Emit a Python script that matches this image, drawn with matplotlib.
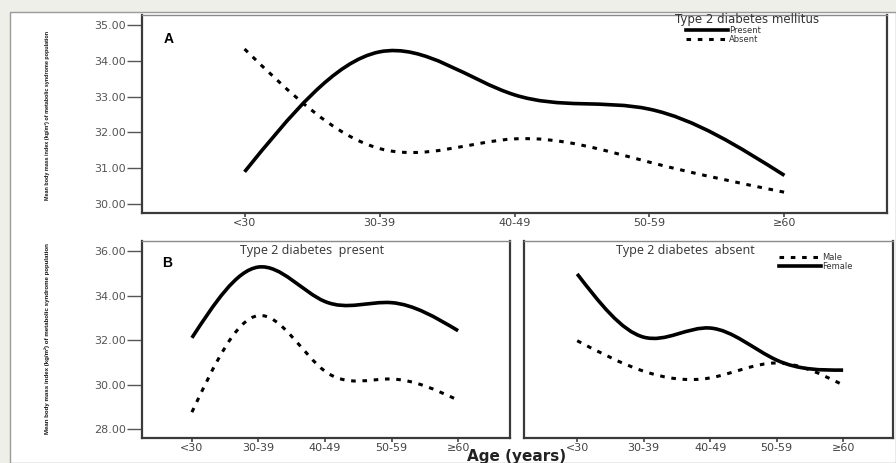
import numpy as np
import matplotlib
matplotlib.use("Agg")
import matplotlib.pyplot as plt
from matplotlib.path import Path
from matplotlib.patches import PathPatch, Rectangle
from matplotlib.lines import Line2D

# ---------------- data ----------------
age_groups = ["<30", "30-39", "40-49", "50-59", "\u226560"]

# Panel A: Type 2 diabetes mellitus
a_present = [30.90, 34.25, 33.05, 32.65, 30.80]
a_absent = [34.33, 31.55, 31.82, 31.17, 30.33]

# Panel B left: Type 2 diabetes present
bp_female = [32.10, 35.28, 33.73, 33.68, 32.42]
bp_male = [28.76, 33.10, 30.60, 30.25, 29.30]

# Panel B right: Type 2 diabetes absent
ba_female = [34.97, 32.13, 32.54, 31.10, 30.65]
ba_male = [31.97, 30.60, 30.30, 30.97, 29.98]

a_yticks = [30, 31, 32, 33, 34, 35]
b_yticks = [28, 30, 32, 34, 36]

# ---------------- helpers ----------------
def spline_path(xs, ys):
    """Natural cubic spline through the points, expressed as cubic Bezier path."""
    xs = np.asarray(xs, float)
    ys = np.asarray(ys, float)
    n = len(xs)
    h = np.diff(xs)
    A = np.zeros((n, n))
    r = np.zeros(n)
    A[0, 0] = 1
    A[-1, -1] = 1
    for i in range(1, n - 1):
        A[i, i - 1] = h[i - 1]
        A[i, i] = 2 * (h[i - 1] + h[i])
        A[i, i + 1] = h[i]
        r[i] = 6 * ((ys[i + 1] - ys[i]) / h[i] - (ys[i] - ys[i - 1]) / h[i - 1])
    M = np.linalg.solve(A, r)
    verts = [(xs[0], ys[0])]
    codes = [Path.MOVETO]
    for i in range(n - 1):
        hi = h[i]
        s = (ys[i + 1] - ys[i]) / hi
        d0 = s - hi * (2 * M[i] + M[i + 1]) / 6
        d1 = s + hi * (M[i] + 2 * M[i + 1]) / 6
        verts += [(xs[i] + hi / 3, ys[i] + d0 * hi / 3),
                  (xs[i + 1] - hi / 3, ys[i + 1] - d1 * hi / 3),
                  (xs[i + 1], ys[i + 1])]
        codes += [Path.CURVE4] * 3
    return Path(verts, codes)

SOLID = dict(lw=2.6, linestyle="-", color="black")
DOTTED = dict(lw=2.2, linestyle=(0, (1.5, 2.2)), color="black")

def draw_curve(ax, vals, style):
    p = spline_path(np.arange(len(vals)), vals)
    patch = PathPatch(p, fill=False, edgecolor=style["color"], lw=style["lw"],
                      linestyle=style["linestyle"], capstyle="butt", joinstyle="round")
    ax.add_patch(patch)

def style_axes(ax, xlim, ylim, yticks, show_ylabels=True):
    ax.set_xlim(*xlim)
    ax.set_ylim(*ylim)
    ax.set_xticks(range(len(age_groups)))
    ax.set_xticklabels(age_groups)
    ax.set_yticks(yticks)
    if show_ylabels:
        ax.set_yticklabels([f"{v:.2f}" for v in yticks])
        ax.tick_params(axis="y", length=10.5, width=1.0, color="#555555",
                       labelsize=8, labelcolor="#555555", pad=1)
    else:
        ax.tick_params(axis="y", left=False, labelleft=False)
    ax.tick_params(axis="x", length=3, width=1.2, color="#444444",
                   labelsize=8, labelcolor="#444444", pad=0.8, direction="out")
    for side in ["left", "bottom", "right"]:
        ax.spines[side].set_color("#3a3a3a")
        ax.spines[side].set_linewidth(1.6)
    ax.spines["top"].set_color("#8a8a8a")
    ax.spines["top"].set_linewidth(1.0)
    ax.set_facecolor("white")

def small_legend(ax, handles, labels, anchor):
    leg = ax.legend(handles, labels, loc="upper left", bbox_to_anchor=anchor,
                    frameon=False, fontsize=6, handlelength=5.0, handletextpad=0.15,
                    labelspacing=0.0, borderpad=0, borderaxespad=0)
    for t in leg.get_texts():
        t.set_color("#333333")
    return leg

# ---------------- figure ----------------
W, H = 896, 463
fig = plt.figure(figsize=(W / 100, H / 100), dpi=100)
fig.patch.set_facecolor("#efefe9")
frame = Rectangle((10 / W, 0), 1 - 10 / W, (H - 12) / H,
                  transform=fig.transFigure, facecolor="white",
                  edgecolor="#9a9a9a", lw=1.0, zorder=-10)
fig.patches.append(frame)

def ax_px(left, top, right, bottom):
    return fig.add_axes([left / W, (H - bottom) / H, (right - left) / W, (bottom - top) / H])

axA = ax_px(142, 15, 887, 213)
axBL = ax_px(142, 241, 510, 438)
axBR = ax_px(524, 241, 893, 438)

# Panel A
style_axes(axA, (-0.76, 4.76), (29.75, 35.28), a_yticks)
draw_curve(axA, a_present, SOLID)
draw_curve(axA, a_absent, DOTTED)
axA.text(0.029, 0.86, "A", transform=axA.transAxes, fontsize=10, fontweight="bold",
         family="Liberation Sans")
fig.text(747 / W, (H - 19) / H, "Type 2 diabetes mellitus", ha="center", va="center",
         fontsize=8.5, color="#333333", family="DejaVu Sans")
small_legend(axA, [Line2D([], [], **SOLID), Line2D([], [], **DOTTED)],
             ["Present", "Absent"], ((686 - 142) / 745, 1 - (26 - 15) / 198))

# Panel B left
style_axes(axBL, (-0.75, 4.78), (27.6, 36.45), b_yticks)
draw_curve(axBL, bp_female, SOLID)
draw_curve(axBL, bp_male, DOTTED)
axBL.text(0.055, 0.87, "B", transform=axBL.transAxes, fontsize=10, fontweight="bold",
          family="Liberation Sans")
axBL.text((312 - 142) / 368, 0.985, "Type 2 diabetes  present", transform=axBL.transAxes,
          ha="center", va="top", fontsize=9, color="#333333", family="Open Sans")

# Panel B right
style_axes(axBR, (-0.8, 4.75), (27.6, 36.45), b_yticks, show_ylabels=False)
draw_curve(axBR, ba_female, SOLID)
draw_curve(axBR, ba_male, DOTTED)
axBR.text((685 - 524) / 369, 0.985, "Type 2 diabetes  absent", transform=axBR.transAxes,
          ha="center", va="top", fontsize=9, color="#333333", family="Open Sans")
small_legend(axBR, [Line2D([], [], **DOTTED), Line2D([], [], **SOLID)],
             ["Male", "Female"], ((779 - 524) / 369, 1 - (253 - 241) / 197))

# y labels
ylab = "Mean body mass index (kg/m\u00b2) of metabolic syndrome population"
fig.text(47 / W, (H - 115) / H, ylab, rotation=90, ha="center", va="center",
         fontsize=3.9, fontweight="bold", family="Liberation Sans", color="#111111")
fig.text(47 / W, (H - 339) / H, ylab, rotation=90, ha="center", va="center",
         fontsize=4.45, fontweight="bold", family="Liberation Sans", color="#111111")

# x label
fig.text(517 / W, (H - 457) / H, "Age (years)", ha="center", va="center",
         fontsize=11, fontweight="bold", family="DejaVu Sans", color="#222222")

fig.savefig("out.png", dpi=100, facecolor=fig.get_facecolor())
